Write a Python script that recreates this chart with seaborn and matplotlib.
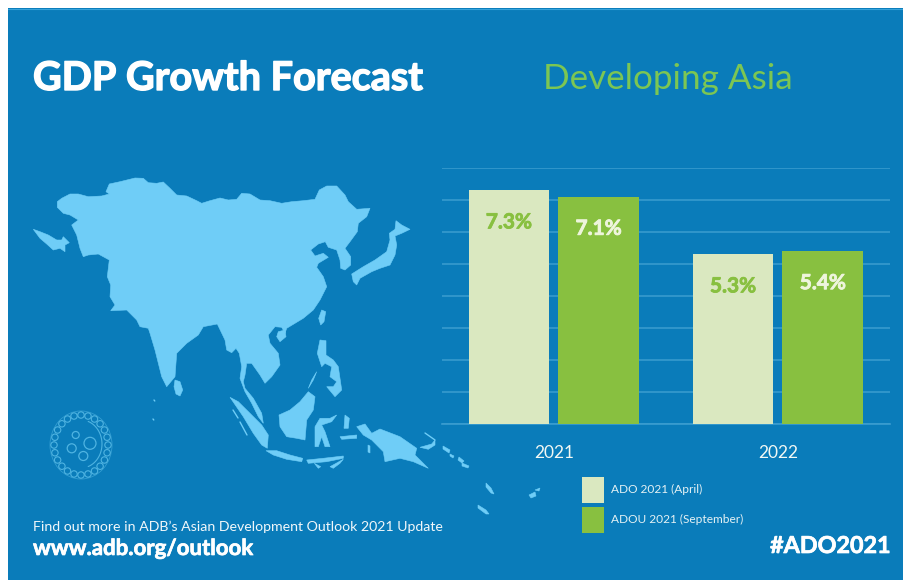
import numpy as np
import pandas as pd
import matplotlib
matplotlib.use("Agg")
import matplotlib.pyplot as plt
import matplotlib.patheffects as pe
from matplotlib.patches import Polygon, Rectangle, Ellipse, Circle
import seaborn as sns

# ---- chart data ----
years = ["2021", "2022"]
ado_april = [7.3, 5.3]
adou_september = [7.1, 5.4]
series_names = ["ADO 2021 (April)", "ADOU 2021 (September)"]

BG = "#0A7CBA"
MAP = "#6FCDF7"
GRID = "#3B9DD0"
LIGHT = "#DAE8C0"
GREEN = "#88C040"
TITLE_GREEN = "#7CC653"
W, H = 904, 580

sns.set_theme(style="white")
plt.rcParams["font.family"] = ["Lato", "DejaVu Sans"]

df = pd.DataFrame({
    "year": years * 2,
    "edition": [series_names[0]] * 2 + [series_names[1]] * 2,
    "value": ado_april + adou_september,
})

fig = plt.figure(figsize=(W / 100, H / 100), dpi=100, facecolor="white")

# ---- backdrop + illustration, in pixel space ----
bg = fig.add_axes([0, 0, 1, 1], zorder=0)
bg.set_xlim(0, W); bg.set_ylim(H, 0); bg.axis("off")
bg.add_patch(Rectangle((8, 8), W - 8, H - 8, fc=BG, ec="none"))
bg.plot([8, W], [8.5, 8.5], color="#35A3DC", lw=0.8)

asia = [(57.3,201.7),(61.7,198.3),(70,194),(78.3,194),(88.3,196.7),(101.7,196),(109.3,194),(106,191.7),
 (109.3,184),(120,181.7),(135,178),(143.3,178.3),(148.3,182.7),(156.7,183.3),(163.3,182),(170,188.3),
 (176.7,195),(186.7,196),(196.7,200.7),(201.7,203.3),(210,200.7),(220,198),(228.3,200),(236.7,199.3),
 (241.7,193.3),(250,194),(260,200),(270,200.7),(281.7,203.3),(291.7,201.7),(303.3,200.7),(315,199.3),
 (319.3,190),(326.7,186),(336.7,186),(345,195),(348.3,201.7),(356.7,209.3),(370,208.3),(366.7,216.7),
 (358.3,223.3),(357.3,231.7),(350,241.7),(345,248.3),(350.7,256.7),(350.7,265),(345,270),(340.7,268.3),
 (340,260),(336.7,250),(328.3,247.3),(325.3,241.7),(318.3,244),(310.7,250),(315,256),(323.3,253.3),
 (328.3,257.3),(318.3,263.3),(316.7,267.3),(323.3,276.7),(326.7,286.7),(320,300),(313.3,310),(303.3,318.3),
 (286.7,328.3),(285,333.3),(281.7,327.3),(275,326.7),(268.3,335),(270,343.3),(278.3,353.3),(280,365),
 (271.7,376.7),(265,383.3),(260,375),(251.7,363.3),(246.7,363.3),(245,375),(243.3,381.7),(245,388.3),
 (253.3,398.3),(261.7,413.3),(263.3,423.3),(258.3,416.7),(251.7,403.3),(245,391.7),(240,378.3),(241.7,366.7),
 (239.3,353.3),(236,348.3),(231.7,352.7),(226.7,350),(225,340),(217.3,324),(203.3,326.7),(198.3,335),
 (186.7,343.3),(176.7,353.3),(175,376.7),(166.7,386.7),(161.7,376.7),(155,350),(150,333.3),(148.3,328.3),
 (140,326.7),(136.7,320),(126.7,310),(110.7,310.7),(115,305),(110,296.7),(110.7,285),(107.3,276.7),
 (109.3,260),(98.3,254),(88.3,255),(83.3,256.7),(80,248.3),(76.7,235),(71.7,225),(78.3,220),(70,215),
 (63.3,213.3),(57.3,207.3)]
islands = [
 [(175,380),(180,381.7),(182.7,390),(180,396),(176,394),(174,386.7)],
 [(278.3,331.7),(285,330),(286,336.7),(280,341.7),(276.7,336.7)],
 [(321.7,310),(325.7,311.7),(324,321.7),(320.7,325),(318.7,318.3)],
 [(396,220.7),(401.7,225),(410,229.3),(401.7,233.3),(395,236),(396.7,245),(395,255),(390,265),(380,268.3),
  (371.7,271.7),(360,278.3),(356.7,285),(353.3,281.7),(351.7,274),(363.3,266.7),(375,260),(386.7,251.7),
  (390,240),(389.3,233.3),(395,229.3)],
 [(33.3,229.3),(40,231.7),(48.3,235),(56.7,240),(61.7,240),(63.3,236.7),(69.3,242.7),(65,245),(65,251.7),
  (60,248.3),(53.3,250),(46.7,244),(40,238.3)],
 [(230,397.3),(238.3,401.7),(250,413.3),(261.7,425),(268.3,435),(267.3,448.3),(261.7,445),(253.3,433.3),(243.3,416.7)],
 [(266,450.7),(276.7,450.7),(290,455),(302.7,458.3),(301.7,461.7),(286.7,459.3),(273.3,455)],
 [(306.7,460),(323.3,458.3),(343.3,456),(343.3,458.3),(326.7,461.7),(308.3,463.3)],
 [(330,466.7),(343.3,459.3),(340,463.3),(333.3,468.3)],
 [(314.3,463.3),(320.7,466.7),(318.3,468.3)],
 [(308.3,391.7),(315,396.7),(313.3,410),(306.7,420),(305,440),(296.7,438.3),(286.7,436.7),(280,426.7),(279,415),(290,410),(300,401.7)],
 [(316.7,371.7),(313.3,380),(308.3,388.3),(311.7,380)],
 [(336.7,415),(331.7,421.7),(321.7,425),(325,431.7),(330,446.7),(325,446.7),(321.7,436.7),(318.3,446.7),(315,446.7),(315,426.7),(320,418.3),(330,418.3)],
 [(320,340),(326,340.7),(326,355),(333.3,360),(338.3,366.7),(341.7,390),(335,396.7),(326.7,386.7),(333.3,386.7),(336.7,381.7),(330,376.7),(331.7,366.7),(325,363.3),(321.7,366.7),(317.3,353.3)],
 [(345,415),(349.3,418.3),(348.3,428.3),(344,428.3)],
 [(340,436.7),(356.7,435),(356.7,438.3),(341.7,439.3)],
 [(356.7,426.7),(365,424),(371.7,433.3),(380,429),(400,436.7),(416.7,448.3),(415,455),(428.3,468.3),(413.3,461.7),(400,458.3),(385,461.7),(383.3,451.7),(371.7,440),(363.3,435)],
 [(420,447.3),(431.7,444),(435,440),(435,445),(428.3,449.3)],
 [(368,445),(370,446),(370,453),(368,452)],
 [(443,446),(450,450),(449,453),(443,449)],
 [(450,454),(454,456),(453,458),(450,456)],
 [(459,457),(464,461),(462,463),(458,460)],
 [(462,463),(469,466),(468,468),(462,466)],
 [(486,483),(491,488),(494,494),(491,493),(486,487)],
 [(478,505),(486,510),(489,514),(486,514),(478,508)],
 [(529,495),(535,492),(536,496),(531,498)],
 [(535,490),(540,488),(539,491)],
]
for pts in [asia] + islands:
    bg.add_patch(Polygon(pts, closed=True, fc=MAP, ec=MAP, lw=0.4))
for (x0, y0, x1, y1) in [(425, 433, 435, 440), (154, 400, 154.8, 401), (153, 419, 153.8, 420),
                         (233, 410, 238, 418), (240, 422, 247, 435)]:
    bg.plot([x0, x1], [y0, y1], color=MAP, lw=1.0, solid_capstyle="round")

# ornament: ring of small loops around a disc of circles
OC = "#4FB4E2"
for ang in np.arange(0, 360, 15):
    a = np.deg2rad(ang)
    bg.add_patch(Circle((81 + 27 * np.cos(a), 445 + 30 * np.sin(a)), 3.2, fc="none", ec=OC, lw=0.8))
bg.add_patch(Ellipse((81, 445), 62, 68, fc="none", ec=OC, lw=0.6, alpha=0.6))
for (cx, cy, r) in [(75.7, 435, 3.5), (90, 443.3, 6), (71.7, 448.3, 4.5), (83.3, 456, 4.5)]:
    bg.add_patch(Circle((cx, cy), r, fc="none", ec=OC, lw=0.9))
t = np.linspace(-70, 70, 30)
bg.plot(81 + 21 * np.cos(np.deg2rad(t)), 444 + 24 * np.sin(np.deg2rad(t)), color=OC, lw=0.8)

# ---- bar chart ----
ax = fig.add_axes([441.7 / W, 1 - 424 / H, (890 - 441.7) / W, (424 - 168) / H], zorder=1)
ax.patch.set_alpha(0)
sns.barplot(data=df, x="year", y="value", hue="edition", hue_order=series_names,
            palette=[LIGHT, GREEN], saturation=1, width=0.8, gap=0.1, ax=ax, zorder=3,
            linewidth=0, edgecolor="none")
ax.set_xlim(-0.5, 1.5)
ax.set_ylim(0, 8)
ax.set_yticks(range(0, 9))
ax.yaxis.grid(True, color=GRID, lw=1.1)
ax.xaxis.grid(False)
ax.set_axisbelow(True)
ax.set_xlabel(""); ax.set_ylabel("")
ax.tick_params(axis="y", left=False, labelleft=False)
ax.tick_params(axis="x", bottom=False, pad=9, labelsize=12.5, labelcolor="#F2F8F4")
for s in ["top", "left", "right"]:
    ax.spines[s].set_visible(False)
ax.spines["bottom"].set_color(GRID)
ax.spines["bottom"].set_linewidth(1.2)

def heavy(col, w):
    return [pe.withStroke(linewidth=w, foreground=col)]

label_colors = [GREEN, "#EEF5DC"]
for cont, col in zip(ax.containers, label_colors):
    for bar in cont:
        v = bar.get_height()
        ax.text(bar.get_x() + bar.get_width() / 2, v - 1.0, f"{v:.1f}%", ha="center", va="center",
                color=col, fontsize=15, fontweight="bold", zorder=5, path_effects=heavy(col, 0.6))

handles, labels = ax.get_legend_handles_labels()
ax.legend(handles, labels, loc="upper left", bbox_to_anchor=(582 / W, 1 - 477 / H),
          bbox_transform=fig.transFigure, frameon=False, fontsize=8.6, labelcolor="#E4F1F4",
          handlelength=1.84, handleheight=2.91, labelspacing=0.38, handletextpad=0.55,
          borderpad=0, borderaxespad=0)

# ---- titles and footer ----
def px(text, x, y, **kw):
    fig.text(x / W, 1 - y / H, text, va="baseline", zorder=6, **kw)

px("GDP Growth Forecast", 33, 90, color="white", fontsize=28.5, fontweight="bold",
   path_effects=heavy("white", 1.0))
px("Developing Asia", 543, 89, color=TITLE_GREEN, fontsize=25.2)
px("Find out more in ADB\u2019s Asian Development Outlook 2021 Update", 33, 531, color="#F0F7FA", fontsize=10.2)
px("www.adb.org/outlook", 33, 555, color="white", fontsize=16, fontweight="bold",
   path_effects=heavy("white", 0.5))
px("#ADO2021", 891, 553, color="white", fontsize=16.8, fontweight="bold", ha="right",
   path_effects=heavy("white", 0.5))

fig.savefig("out.png", dpi=100, facecolor="white")
